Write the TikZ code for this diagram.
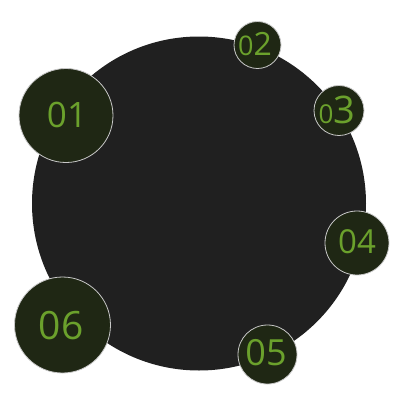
\documentclass[tikz,border=0pt]{standalone}
\usepackage{fontspec}
\setmainfont{Open Sans}
\definecolor{bigdark}{HTML}{202020}
\definecolor{olive}{HTML}{1F2714}
\definecolor{leaf}{HTML}{6BA12C}
\definecolor{rim}{HTML}{C8C8C8}
\begin{document}
\begin{tikzpicture}[x=1pt,y=-1pt,
  bubble/.style={circle,draw=rim,line width=0.8pt,fill=olive,inner sep=0pt},
  num/.style={text=leaf,inner sep=0pt}]
\useasboundingbox (0,0) rectangle (400,400);
\fill[bigdark] (199,203.5) circle (167);
\node[bubble,minimum size=94pt] (c1) at (66,115.5) {};
\node[bubble,minimum size=47pt] (c2) at (257.5,45) {};
\node[bubble,minimum size=50pt] (c3) at (339,110.5) {};
\node[bubble,minimum size=64pt] (c4) at (357,243) {};
\node[bubble,minimum size=59pt] (c5) at (267.5,354.5) {};
\node[bubble,minimum size=96pt] (c6) at (62.5,325) {};
\node[num,font=\fontsize{35}{35}\selectfont] (t1) at (67,115) {01};
\node[num] (t2) at (255,44) {\fontsize{27}{27}\selectfont 0\fontsize{32}{32}\selectfont 2};
\node[num] (t3) at (337,110) {\fontsize{26}{26}\selectfont 0\fontsize{38}{38}\selectfont 3};
\node[num,font=\fontsize{33}{33}\selectfont] (t4) at (357,242) {04};
\node[num,font=\fontsize{36}{36}\selectfont] (t5) at (266,353) {05};
\node[num,font=\fontsize{39}{39}\selectfont] (t6) at (61,326) {06};
\end{tikzpicture}
\end{document}
